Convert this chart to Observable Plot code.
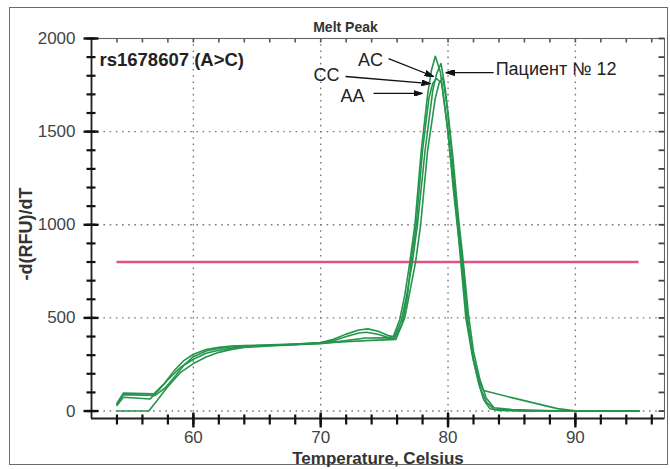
<!DOCTYPE html>
<html><head><meta charset="utf-8">
<script src="https://cdn.jsdelivr.net/npm/d3@7"></script>
<script src="https://cdn.jsdelivr.net/npm/@observablehq/plot@0.6"></script>
<style>
html,body{margin:0;padding:0;background:#fff;}
#wrap{position:relative;width:670px;height:469px;overflow:hidden;}
#border{position:absolute;left:9px;top:7px;width:657px;height:456px;border:1.5px solid #6a6a6a;pointer-events:none;}
</style></head><body><div id="wrap"><div id="border"></div></div>
<script>
// ---- data (temperature °C, -d(RFU)/dT) ----
const curveAC = [[54,42],[54.5,96],[56.9,92],[57.7,146],[58.5,217],[59.25,271],[60,305],[61,330],[62,342],[63,349],[64,352],[66,355],[68,360],[70,368],[71,385],[72,413],[73,435],[73.7,441],[74.5,428],[75.3,405],[75.7,400],[76.2,490],[76.6,620],[77.0,800],[77.4,1000],[77.9,1400],[78.4,1700],[78.7,1830],[79.0,1905],[79.4,1820],[79.9,1550],[80.3,1300],[80.75,1000],[81.0,800],[81.4,500],[81.9,300],[82.4,150],[82.8,60],[83.3,12],[84,3],[86,0],[95,0]];
const curvePatient = [[54,30],[54.5,74],[56.6,65],[57.0,92],[57.95,164],[59,235],[60,278],[61,310],[62,326],[63,338],[64,345],[66,352],[68,358],[70,366],[71,378],[72,400],[73,419],[73.6,423],[74.5,412],[75.3,395],[75.8,400],[76.3,480],[76.7,600],[77.2,800],[77.6,1000],[78.2,1400],[78.8,1720],[79.1,1810],[79.45,1866],[79.8,1720],[80.2,1450],[80.6,1150],[81.0,880],[81.3,680],[81.6,450],[82.0,280],[82.5,150],[82.8,110],[85,72],[88.6,13],[90,2],[95,0]];
const curveCC = [[54,0],[56.5,0],[57.15,56],[57.95,128],[59,208],[60,255],[61,290],[62,315],[63,331],[64,341],[66,350],[68,356],[70,362],[72,378],[73.5,392],[75,393],[75.8,390],[76.4,470],[76.8,610],[77.1,800],[77.5,1000],[78.0,1400],[78.5,1680],[78.8,1760],[79.1,1785],[79.5,1760],[80.0,1500],[80.4,1200],[80.8,950],[81.1,780],[81.5,500],[82.0,270],[82.5,130],[83.0,50],[83.6,10],[86,0],[95,0]];
const curveAA = [[54,38],[54.5,88],[57.0,84],[57.8,125],[58.6,190],[59.3,250],[60,292],[61,322],[62,336],[63,345],[64,349],[66,353],[68,358],[70,364],[72,372],[73.5,378],[75,382],[75.9,385],[76.6,500],[77.0,640],[77.45,800],[77.85,1000],[78.4,1400],[79.0,1680],[79.3,1760],[79.6,1790],[80.0,1600],[80.4,1350],[80.8,1050],[81.2,800],[81.6,520],[82.0,320],[82.5,170],[83.0,70],[83.6,18],[85,8],[89,0],[95,0]];

const threshold = [{value: 800, from: 54, to: 95}];

const xDomain = [52, 97];
const yDomain = [-40, 2000];
const xTickLabels = [60, 70, 80, 90];
const yTickLabels = [0, 500, 1000, 1500, 2000];
const xMinorTicks = [54,56,58,60,62,64,66,68,70,72,74,76,78,80,82,84,86,88,90,92,94,96];
const yMinorTicks = [0,100,200,300,400,500,600,700,800,900,1000,1100,1200,1300,1400,1500,1600,1700,1800,1900,2000];
const xGrid = [60, 70, 80, 90];
const yGrid = [0, 500, 1000, 1500];

const labels = [
  {text: "AC", t: 73.92, v: 1882, anchor: "middle"},
  {text: "CC", t: 70.46, v: 1801, anchor: "middle"},
  {text: "AA", t: 72.50, v: 1688, anchor: "middle"},
  {text: "Пациент № 12", t: 83.74, v: 1833, anchor: "start"}
];
const arrows = [
  {t1: 75.33, v1: 1892, t2: 78.87, v2: 1796},
  {t1: 71.95, v1: 1796, t2: 78.63, v2: 1758},
  {t1: 74.15, v1: 1705, t2: 78.00, v2: 1705},
  {t1: 83.58, v1: 1817, t2: 79.81, v2: 1817}
];

const curves = [curveAC, curvePatient, curveCC, curveAA];

function filledArrow(color, context) {
  const doc = (context && context.document) || document;
  const ns = "http://www.w3.org/2000/svg";
  const m = doc.createElementNS(ns, "marker");
  m.setAttribute("viewBox", "-10 -5 10 10");
  m.setAttribute("markerWidth", 9);
  m.setAttribute("markerHeight", 6);
  m.setAttribute("preserveAspectRatio", "none");
  m.setAttribute("markerUnits", "userSpaceOnUse");
  m.setAttribute("orient", "auto");
  m.setAttribute("refX", 0);
  m.setAttribute("refY", 0);
  const p = doc.createElementNS(ns, "path");
  p.setAttribute("d", "M-10,-5L0,0L-10,5Z");
  p.setAttribute("fill", color && color !== "none" ? color : "#111");
  m.appendChild(p);
  return m;
}

const W = 670, H = 469, ML = 91, MR = 6, MT = 38, MB = 51;
const FW = W - ML - MR, FH = H - MT - MB;
const ux = (xDomain[1] - xDomain[0]) / FW;   // data units per pixel (x)
const uy = (yDomain[1] - yDomain[0]) / FH;   // data units per pixel (y)
const font = "'Liberation Sans', Arial, Helvetica, sans-serif";
const fmt = d => `${d}`;

// tick segments built from the tick arrays (pixel lengths converted to data units)
const vTicks = (ticks, yA, yB) => ticks.map(t => ({x1: t, x2: t, y1: yA, y2: yB}));
const hTicks = (ticks, xA, xB) => ticks.map(t => ({x1: xA, x2: xB, y1: t, y2: t}));
const bottomMinor = vTicks(xMinorTicks, yDomain[0] + 4 * uy, yDomain[0] - 6 * uy);
const bottomMajor = vTicks(xTickLabels, yDomain[0] + 6 * uy, yDomain[0] - 9 * uy);
const topMinor = vTicks(xMinorTicks, yDomain[1], yDomain[1] - 4 * uy);
const leftMinor = hTicks(yMinorTicks, xDomain[0] - 5 * ux, xDomain[0] + 4 * ux);
const leftMajor = hTicks(yTickLabels, xDomain[0] - 8 * ux, xDomain[0] + 7 * ux);
const rightMinor = hTicks(yMinorTicks, xDomain[1] - 6 * ux, xDomain[1]);

function build(marker) {
  const tickLayer = (data, stroke, w) => Plot.link(data, {x1: "x1", y1: "y1", x2: "x2", y2: "y2", stroke, strokeWidth: w});
  return Plot.plot({
    width: W, height: H,
    marginLeft: ML, marginRight: MR, marginTop: MT, marginBottom: MB,
    style: {fontFamily: font, fontSize: "16px", background: "transparent", color: "#222", overflow: "visible"},
    x: {domain: xDomain, axis: null},
    y: {domain: yDomain, axis: null},
    marks: [
      Plot.ruleX(xGrid, {stroke: "#7a7a7a", strokeWidth: 1.4, strokeDasharray: "1.6,4.6"}),
      Plot.ruleY(yGrid, {stroke: "#7a7a7a", strokeWidth: 1.4, strokeDasharray: "1.6,4.6"}),
      Plot.frame({stroke: "#666", strokeWidth: 1.1}),
      Plot.ruleX([xDomain[0]], {stroke: "#222", strokeWidth: 1.8}),
      Plot.ruleY([yDomain[0]], {stroke: "#222", strokeWidth: 1.8}),
      tickLayer(bottomMinor, "#111", 2.2),
      tickLayer(bottomMajor, "#111", 2.4),
      tickLayer(topMinor, "#555", 1.6),
      tickLayer(leftMinor, "#111", 2.2),
      tickLayer(leftMajor, "#111", 2.4),
      tickLayer(rightMinor, "#444", 1.8),
      Plot.axisX({ticks: xTickLabels, tickFormat: fmt, tickSize: 0, tickPadding: 12, fontSize: 17, fill: "#444", label: null}),
      Plot.axisY({ticks: yTickLabels, tickFormat: fmt, tickSize: 0, tickPadding: 16, fontSize: 17, fill: "#444", label: null}),
      Plot.ruleY(threshold, {y: "value", x1: "from", x2: "to", stroke: "#e2508a", strokeWidth: 2.6}),
      ...curves.map(c => Plot.line(c, {x: d => d[0], y: d => d[1], stroke: "#25944c", strokeWidth: 1.6, strokeLinejoin: "round"})),
      Plot.link(arrows, {x1: "t1", y1: "v1", x2: "t2", y2: "v2", stroke: "#111", strokeWidth: 1.3, markerEnd: marker}),
      Plot.text(labels.filter(d => d.anchor === "middle"), {x: "t", y: "v", text: "text", fontSize: 18, fill: "#222", textAnchor: "middle", lineAnchor: "middle"}),
      Plot.text(labels.filter(d => d.anchor === "start"), {x: "t", y: "v", text: "text", fontSize: 18, fill: "#222", textAnchor: "start", lineAnchor: "middle"}),
      Plot.text(["rs1678607 (A>C)"], {text: d => d, frameAnchor: "top-left", dx: 8, dy: 22, textAnchor: "start", lineAnchor: "middle", fontSize: 18.5, fontWeight: "bold", fill: "#222"}),
      Plot.text(["Melt Peak"], {text: d => d, frameAnchor: "top", dx: -32.5, dy: -11, lineAnchor: "middle", fontSize: 14, fontWeight: "bold", fill: "#333"}),
      Plot.text(["Temperature, Celsius"], {text: d => d, frameAnchor: "bottom", dy: 40, lineAnchor: "middle", fontSize: 17, fontWeight: "bold", fill: "#333"}),
      Plot.text(["-d(RFU)/dT"], {text: d => d, x: xDomain[0] - 65 * ux, y: 950, rotate: -90, textAnchor: "middle", lineAnchor: "middle", fontSize: 18, fontWeight: "bold", fill: "#333"})
    ]
  });
}

let chart;
try { chart = build(filledArrow); } catch (e) { chart = build("arrow"); }
chart.style.position = "absolute";
chart.style.left = "0";
chart.style.top = "0";
document.getElementById("wrap").appendChild(chart);
</script>
</body></html>
